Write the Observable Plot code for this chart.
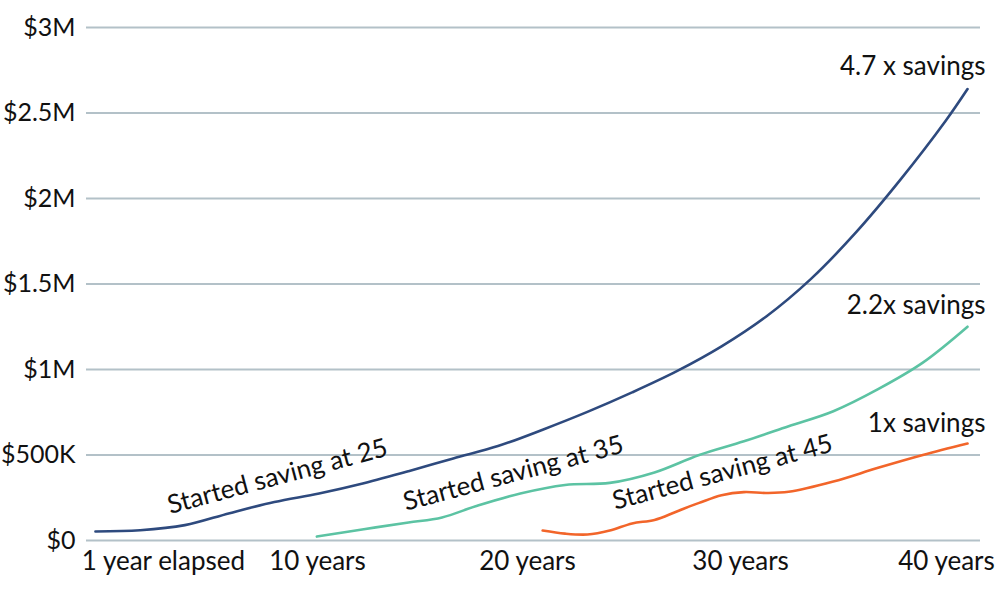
<!DOCTYPE html>
<html>
<head>
<meta charset="utf-8">
<script src="https://cdn.jsdelivr.net/npm/d3@7"></script>
<script src="https://cdn.jsdelivr.net/npm/@observablehq/plot@0.6"></script>
<style>
  html, body { margin: 0; padding: 0; background: #ffffff; }
  #chart { width: 1004px; height: 591px; }
</style>
</head>
<body>
<div id="chart"></div>
<script>
// ---- Data ----
const seriesNames = ["Started saving at 25", "Started saving at 35", "Started saving at 45"];
const seriesColors = ["#2e4a7e", "#5cc3a3", "#f2652a"];

const years25 = [1, 3, 5, 7, 9, 11, 13, 15, 17, 19, 21, 23, 25, 27, 29, 31, 33, 35, 37, 39, 40];
const values25 = [53000, 60000, 90000, 160000, 225000, 275000, 335000, 405000, 480000, 552000, 648000, 752000, 866000, 990000, 1135000, 1310000, 1530000, 1800000, 2110000, 2450000, 2640000];

const years35 = [10.9, 13, 15, 16.5, 18, 20, 22, 24, 26, 28, 30, 32, 34, 36, 38, 40];
const values35 = [23000, 66000, 105000, 135000, 200000, 275000, 325000, 337000, 398000, 500000, 580000, 668000, 756000, 885000, 1040000, 1250000];

const years45 = [21, 22, 23, 24, 25, 26, 27, 28, 29, 30, 31, 32, 34, 36, 38, 40];
const values45 = [58000, 40000, 35000, 58000, 100000, 120000, 170000, 220000, 265000, 283000, 278000, 285000, 345000, 425000, 500000, 567000];

const yTicks = [0, 500000, 1000000, 1500000, 2000000, 2500000, 3000000];
const yTickLabels = ["$0", "$500K", "$1M", "$1.5M", "$2M", "$2.5M", "$3M"];

const xTickYears = [4.04, 10.93, 20.32, 29.85, 39.06];
const xTickLabels = ["1 year elapsed", "10 years", "20 years", "30 years", "40 years"];

const curveLabels = ["Started saving at 25", "Started saving at 35", "Started saving at 45"];
const curveLabelYears = [9.14, 19.69, 29.04];
const curveLabelValues = [374000, 392000, 398000];

const endLabels = ["4.7 x savings", "2.2x savings", "1x savings"];
const endLabelYears = [40.8, 40.8, 40.8];
const endLabelValues = [2772000, 1374000, 684000];

// ---- Build tables ----
const rows = [];
[[years25, values25], [years35, values35], [years45, values45]].forEach(([ys, vs], i) => {
  ys.forEach((yr, j) => rows.push({series: seriesNames[i], year: yr, value: vs[j]}));
});
const curveLabelRows = curveLabels.map((t, i) => ({text: t, year: curveLabelYears[i], value: curveLabelValues[i]}));
const endLabelRows = endLabels.map((t, i) => ({text: t, year: endLabelYears[i], value: endLabelValues[i]}));

const font = "Lato, 'Open Sans', sans-serif";

const chart = Plot.plot({
  width: 1004,
  height: 591,
  marginLeft: 86,
  marginRight: 24,
  marginTop: 27,
  marginBottom: 51,
  style: {fontFamily: font, fontSize: "26px", color: "#111", background: "#ffffff", overflow: "visible"},
  x: {domain: [0.6, 40.58], axis: null},
  y: {domain: [0, 3000000], axis: null},
  color: {domain: seriesNames, range: seriesColors},
  marks: [
    Plot.ruleY(yTicks, {stroke: "#b3c1c8", strokeWidth: 2}),
    Plot.axisY(yTicks, {
      tickSize: 0, tickPadding: 11, fontSize: 25,
      tickFormat: (d) => yTickLabels[yTicks.indexOf(d)], label: null
    }),
    Plot.axisX(xTickYears, {
      tickSize: 0, tickPadding: 11, fontSize: 26,
      tickFormat: (d) => xTickLabels[xTickYears.indexOf(d)], label: null
    }),
    Plot.line(rows, {
      x: "year", y: "value", z: "series", stroke: "series",
      curve: "catmull-rom", strokeWidth: 2.6
    }),
    Plot.text(curveLabelRows, {
      x: "year", y: "value", text: "text", rotate: -15,
      fontSize: 26, fill: "#111", textAnchor: "middle"
    }),
    Plot.text(endLabelRows, {
      x: "year", y: "value", text: "text",
      fontSize: 26, fill: "#111", textAnchor: "end"
    })
  ]
});

document.getElementById("chart").appendChild(chart);
</script>
</body>
</html>
